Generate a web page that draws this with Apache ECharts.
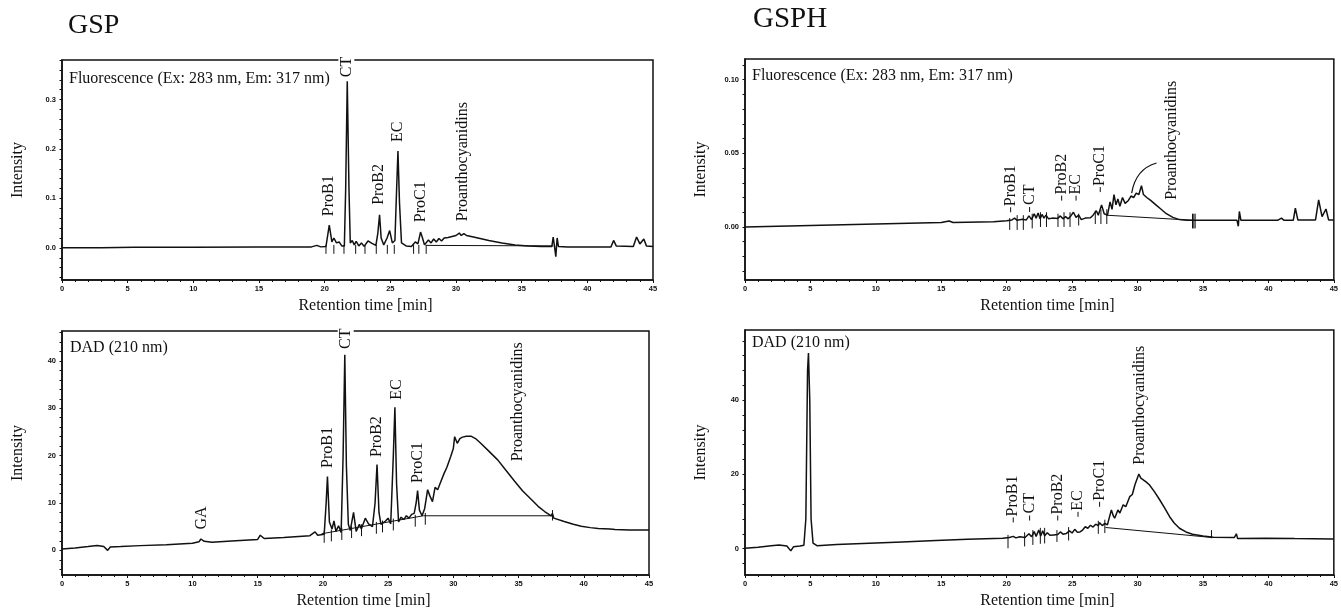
<!DOCTYPE html>
<html>
<head>
<meta charset="utf-8">
<title>GSP / GSPH chromatograms</title>
<script src="https://cdn.jsdelivr.net/npm/echarts@6/dist/echarts.min.js"></script>
<style>
  html, body { margin: 0; padding: 0; background: #fff; }
  #chart { width: 1341px; height: 610px; }
</style>
</head>
<body>
<div id="chart"></div>
<script>
// ---------- data: retention time [min], intensity ----------
const timeTicks = [0, 5, 10, 15, 20, 25, 30, 35, 40, 45];

// GSP, fluorescence detector
const fluoGspTicks = [0, 0.1, 0.2, 0.3];
const fluoGspTrace = [
  [0,0],[3,0],[5.5,0.001],[10,0.001],[15,0.002],[19,0.002],[19.4,0.005],[19.7,0.002],[20.1,0.003],
  [20.35,0.046],[20.55,0.012],[20.7,0.02],[20.9,0.01],[21.1,0.012],[21.3,0.004],[21.5,0.004],
  [21.6,0.12],[21.72,0.337],[21.85,0.12],[21.95,0.01],[22.1,0.015],[22.25,0.006],[22.4,0.013],
  [22.6,0.004],[22.8,0.01],[23.0,0.003],[23.3,0.014],[23.6,0.009],[23.9,0.005],[24.05,0.03],
  [24.18,0.067],[24.3,0.02],[24.5,0.006],[24.75,0.02],[24.95,0.035],[25.15,0.01],[25.35,0.015],
  [25.48,0.12],[25.58,0.196],[25.7,0.09],[25.85,0.01],[26.0,0.012],[26.2,0.004],[26.6,0.003],
  [26.9,0.012],[27.1,0.008],[27.3,0.032],[27.45,0.02],[27.6,0.006],[27.9,0.016],[28.1,0.01],
  [28.3,0.018],[28.5,0.012],[28.7,0.019],[28.9,0.014],[29.1,0.02],[29.4,0.021],[29.7,0.023],
  [30.0,0.025],[30.25,0.03],[30.4,0.025],[30.6,0.029],[30.8,0.025],[31.5,0.021],[32.5,0.015],
  [33.5,0.01],[34.5,0.006],[35.5,0.004],[36.5,0.003],[37.3,0.003],[37.4,0.022],[37.5,0.003],
  [37.6,-0.018],[37.7,0.02],[37.8,0.003],[38.5,0.002],[41.8,0.002],[42.0,0.015],[42.2,0.004],
  [43.5,0.003],[43.75,0.022],[44.0,0.008],[44.3,0.018],[44.5,0.004],[45,0.003]
];
const fluoGspBaseline = [[27.7,0.005],[37.4,0.004]];
const fluoGspDrops = [
  [20.1,0.006,-0.012],[20.7,0.006,-0.012],[21.47,0.006,-0.012],[22.36,0.006,-0.012],
  [23.07,0.006,-0.012],[23.93,0.006,-0.012],[24.77,0.006,-0.012],[25.3,0.006,-0.012],
  [26.77,0.006,-0.012],[27.17,0.006,-0.012],[27.73,0.006,-0.012]
];
const fluoGspPeaks = [
  ['ProB1',20.33,0.064],['CT',21.65,0.343],['ProB2',24.1,0.087],['EC',25.6,0.214],
  ['ProC1',27.35,0.052],['Proanthocyanidins',30.5,0.054]
];

// GSPH, fluorescence detector
const fluoGsphTicks = [0, 0.05, 0.10];
const fluoGsphTrace = [
  [0,0],[5,0.001],[10,0.002],[15,0.003],[15.6,0.004],[15.9,0.003],[19,0.0035],[20,0.0042],
  [20.4,0.0048],[20.6,0.006],[20.8,0.0045],[21.2,0.0052],[21.5,0.0048],[21.7,0.0075],[21.9,0.005],
  [22.1,0.009],[22.25,0.006],[22.4,0.0095],[22.55,0.0055],[22.7,0.0085],[22.85,0.006],[23.0,0.008],
  [23.2,0.0055],[23.5,0.006],[23.9,0.0058],[24.1,0.0075],[24.3,0.0055],[24.5,0.007],[24.7,0.0055],
  [24.9,0.0075],[25.1,0.01],[25.3,0.0065],[25.5,0.008],[25.7,0.005],[26.0,0.006],[26.4,0.0062],
  [26.6,0.008],[26.85,0.011],[27.0,0.008],[27.25,0.015],[27.45,0.009],[27.7,0.008],[27.9,0.017],
  [28.05,0.012],[28.2,0.022],[28.35,0.015],[28.5,0.019],[28.65,0.014],[28.85,0.02],[29.05,0.016],
  [29.3,0.018],[29.5,0.021],[29.7,0.02],[29.9,0.023],[30.1,0.022],[30.3,0.028],[30.45,0.022],
  [30.7,0.02],[31.0,0.018],[31.4,0.015],[31.8,0.012],[32.2,0.009],[32.7,0.0065],[33.2,0.005],
  [33.8,0.0045],[34.3,0.0045],[35,0.0045],[37.6,0.0045],[37.7,0.0005],[37.78,0.0105],[37.9,0.0045],
  [40.7,0.0045],[41,0.006],[41.2,0.0045],[41.9,0.0045],[42.06,0.0127],[42.25,0.0048],[43.6,0.0048],
  [43.84,0.0184],[44.1,0.007],[44.4,0.0122],[44.6,0.0048],[45,0.0048]
];
const fluoGsphBaseline = [[27.6,0.008],[34.3,0.0045]];
const fluoGsphDrops = [
  [20.23,0.006,-0.002],[20.8,0.008,-0.002],[21.27,0.008,-0.002],[21.95,0.009,-0.001],
  [22.58,0.01,0.0],[23.04,0.01,0.0],[23.92,0.009,0.0],[24.38,0.01,0.0],[24.84,0.01,0.0],
  [25.5,0.009,0.001],[26.77,0.011,0.002],[27.2,0.012,0.002],[27.65,0.012,0.002],
  [34.2,0.009,-0.001],[34.3,0.009,-0.001],[34.4,0.009,-0.001]
];
const fluoGsphPeaks = [
  ['ProB1',20.3,0.0093],['CT',21.75,0.0095],['ProB2',24.2,0.0172],['EC',25.3,0.0172],
  ['ProC1',27.15,0.023],['Proanthocyanidins',32.6,0.0184]
];
const fluoGsphCallout = [[29.55,0.023],[31.45,0.0434]];

// GSP, DAD 210 nm
const dadGspTicks = [0, 10, 20, 30, 40];
const dadGspTrace = [
  [0,0.3],[1,0.5],[2,0.8],[2.7,1.05],[3.2,0.8],[3.5,0.0],[3.7,0.7],[4.5,0.8],[6,1.0],[8,1.2],
  [10,1.5],[10.5,1.8],[10.65,2.4],[10.9,1.9],[11.5,1.7],[13,2.0],[15,2.3],[15.2,3.2],[15.5,2.5],
  [17,2.7],[19,3.1],[19.4,3.9],[19.6,3.2],[20.1,3.4],[20.25,10],[20.35,15.6],[20.5,6],[20.7,4.5],
  [20.85,6.2],[21.0,4.0],[21.2,5.2],[21.4,3.8],[21.55,20],[21.68,41.3],[21.8,18],[21.95,5.5],
  [22.1,4.2],[22.35,8.0],[22.55,4.0],[22.8,5.5],[22.95,4.5],[23.25,6.8],[23.5,5.6],[23.8,5.0],
  [24.0,10],[24.15,18.1],[24.3,8],[24.45,5.5],[24.8,6.2],[25.0,6.8],[25.2,5.6],[25.4,20],
  [25.52,30.2],[25.65,14],[25.8,6.0],[26.0,7.0],[26.2,6.5],[26.4,7.3],[26.6,6.8],[26.8,7.6],
  [27.0,7.8],[27.15,10],[27.26,12.6],[27.4,8.5],[27.6,7.3],[27.8,8.8],[28.03,12.8],[28.2,11.5],
  [28.4,10.3],[28.6,13.3],[28.8,12.8],[29.0,14.2],[29.3,16.3],[29.5,17.5],[29.8,19.8],[30.0,21.5],
  [30.1,24.0],[30.3,22.6],[30.5,23.6],[30.7,23.9],[31.0,24.1],[31.35,24.1],[31.7,23.6],[32.1,22.6],
  [32.7,21.0],[33.4,19.1],[34.0,17.0],[34.7,14.6],[35.3,12.6],[36.0,10.7],[36.5,9.3],[37.0,8.2],
  [37.5,7.3],[37.6,7.8],[37.7,6.8],[38.5,6.1],[39.2,5.5],[39.8,5.1],[40.5,4.8],[41.1,4.6],[42,4.5],
  [42.4,4.4],[43.5,4.3],[45,4.3]
];
const dadGspBaseline = [[19.9,3.5],[27.7,7.3],[37.6,7.3]];
const dadGspDrops = [
  [20.1,4.1,1.6],[20.65,4.4,1.9],[21.45,4.8,2.2],[22.2,5.1,2.6],[22.96,5.5,3.0],[24.1,6.0,3.5],
  [24.57,6.3,3.8],[25.4,6.7,4.2],[27.08,7.5,5.0],[27.85,7.9,5.4],[37.6,8.5,6.3]
];
const dadGspPeaks = [
  ['GA',10.7,4.4],['ProB1',20.35,17.4],['CT',21.75,42.3],['ProB2',24.15,19.7],['EC',25.7,31.8],
  ['ProC1',27.26,14.2],['Proanthocyanidins',34.95,18.8]
];

// GSPH, DAD 210 nm
const dadGsphTicks = [0, 20, 40];
const dadGsphTrace = [
  [0,0.1],[1,0.4],[2,0.8],[2.6,1.0],[3.2,0.7],[3.5,-0.6],[3.7,0.5],[4.2,0.7],[4.5,0.9],[4.65,8],
  [4.78,48],[4.85,52.7],[4.95,40],[5.05,8],[5.2,1.5],[5.5,0.8],[7,1.1],[9.5,1.45],[12,1.8],
  [14.6,2.2],[17,2.5],[19.7,2.8],[20.2,3.0],[20.5,3.3],[20.7,2.9],[21.0,3.2],[21.4,3.0],[21.7,4.0],
  [21.9,3.2],[22.1,4.6],[22.25,3.3],[22.45,5.0],[22.6,3.4],[22.75,4.8],[22.9,3.5],[23.1,4.3],
  [23.3,3.6],[23.6,3.7],[23.9,3.8],[24.1,4.5],[24.3,3.9],[24.56,4.1],[24.8,4.8],[25.0,4.2],
  [25.2,5.2],[25.4,4.4],[25.6,4.5],[25.8,5.0],[26.0,5.9],[26.2,5.5],[26.4,6.3],[26.6,5.8],
  [26.8,6.6],[27.0,6.2],[27.1,7.0],[27.3,6.2],[27.5,6.8],[27.7,6.4],[27.85,8.5],[28.0,10.4],
  [28.15,8.8],[28.25,8.2],[28.5,10.4],[28.65,9.6],[28.9,11.8],[29.1,11.3],[29.4,14.0],[29.6,14.6],
  [29.8,17.2],[29.95,17.5],[30.1,20.1],[30.25,19.0],[30.4,18.5],[30.65,18.0],[30.9,17.2],
  [31.3,15.3],[31.7,13.1],[32.1,10.8],[32.45,8.6],[32.8,6.9],[33.2,5.5],[33.7,4.5],[34.2,3.9],
  [35,3.4],[35.8,3.1],[37.4,3.0],[37.55,4.0],[37.65,2.7],[37.8,3.0],[39.8,2.8],[42,2.7],
  [44.9,2.6],[45,2.6]
];
const dadGsphBaseline = [[27.55,5.7],[35.7,3.0]];
const dadGsphDrops = [
  [20.1,3.7,0.1],[21.37,4.4,0.6],[22.0,5.0,1.0],[22.57,5.6,1.3],[22.9,5.6,1.4],[23.84,5.0,1.8],
  [24.73,5.8,2.2],[27.0,7.5,4.0],[27.5,7.8,4.2],[35.65,5.0,2.8]
];
const dadGsphPeaks = [
  ['ProB1',20.5,6.8],['CT',21.75,7.3],['ProB2',23.9,7.3],['EC',25.45,8.3],
  ['ProC1',27.1,11.0],['Proanthocyanidins',30.15,22.6]
];

// ---------- layout ----------
const SERIF = '"Liberation Serif", "Times New Roman", serif';
const INK = '#111';

const panels = [
  { grid: { left: 62, top: 60, width: 591, height: 220 }, yMin: -0.065, yMax: 0.38,
    ticks: fluoGspTicks, minorStep: 0.02, digits: 1,
    trace: fluoGspTrace, baseline: fluoGspBaseline, drops: fluoGspDrops, peaks: fluoGspPeaks, leaders: false },
  { grid: { left: 745, top: 59, width: 592, height: 221 }, yMin: -0.036, yMax: 0.114,
    ticks: fluoGsphTicks, minorStep: 0.01, digits: 2,
    trace: fluoGsphTrace, baseline: fluoGsphBaseline, drops: fluoGsphDrops, peaks: fluoGsphPeaks, leaders: true },
  { grid: { left: 62, top: 331, width: 587, height: 244 }, yMin: -5.2, yMax: 46.3,
    ticks: dadGspTicks, minorStep: 2, digits: 0,
    trace: dadGspTrace, baseline: dadGspBaseline, drops: dadGspDrops, peaks: dadGspPeaks, leaders: false },
  { grid: { left: 745, top: 330, width: 589, height: 245 }, yMin: -7.1, yMax: 58.9,
    ticks: dadGsphTicks, minorStep: 4, digits: 0,
    trace: dadGsphTrace, baseline: dadGsphBaseline, drops: dadGsphDrops, peaks: dadGsphPeaks, leaders: true }
];

function minorTicks(p) {
  const out = [];
  const start = Math.ceil(p.yMin / p.minorStep);
  const end = Math.floor(p.yMax / p.minorStep);
  for (let k = start; k <= end; k++) out.push(+(k * p.minorStep).toFixed(4));
  return out;
}

const tickFont = { fontFamily: '"Liberation Sans", Arial, sans-serif', fontWeight: 'bold', fontSize: 7.5, color: INK };
const nameFont = { fontFamily: SERIF, fontSize: 16, color: INK };

const grids = panels.map(p => Object.assign({ show: true, borderColor: INK, borderWidth: 1.5, backgroundColor: 'transparent' }, p.grid));

const xAxes = panels.map((p, i) => ({
  type: 'value', gridIndex: i, min: timeTicks[0], max: timeTicks[timeTicks.length - 1], interval: 5,
  name: 'Retention time [min]', nameLocation: 'middle', nameGap: 18,
  nameTextStyle: Object.assign({ padding: [0, 0, 0, 16] }, nameFont),
  axisLine: { show: true, onZero: false, lineStyle: { color: INK, width: 1.5 } },
  axisTick: { show: true, length: 3, lineStyle: { color: INK, width: 1 } },
  minorTick: { show: true, splitNumber: 5, length: 2, lineStyle: { color: INK, width: 1 } },
  axisLabel: Object.assign({ margin: 5 }, tickFont),
  splitLine: { show: false }
}));

const yAxes = panels.map((p, i) => ({
  type: 'value', gridIndex: i, min: p.yMin, max: p.yMax,
  name: 'Intensity', nameLocation: 'middle', nameGap: 36, nameTextStyle: nameFont,
  axisLine: { show: true, onZero: false, lineStyle: { color: INK, width: 1.5 } },
  axisTick: { show: true, length: 2.5, customValues: minorTicks(p), lineStyle: { color: INK, width: 1 } },
  axisLabel: Object.assign({ margin: 6, customValues: p.ticks,
    formatter: v => v.toFixed(p.digits) }, tickFont),
  splitLine: { show: false }
}));

const series = [];
panels.forEach((p, i) => {
  series.push({
    type: 'line', xAxisIndex: i, yAxisIndex: i, data: p.trace, showSymbol: false, symbol: 'none',
    lineStyle: { color: INK, width: 1.5 }, silent: true, z: 3, animation: false
  });
  series.push({
    type: 'line', xAxisIndex: i, yAxisIndex: i, data: p.baseline, showSymbol: false, symbol: 'none',
    lineStyle: { color: INK, width: 1 }, silent: true, z: 2, animation: false
  });
  // integration drop lines
  series.push({
    type: 'custom', xAxisIndex: i, yAxisIndex: i, data: p.drops, encode: { x: 0, y: [1, 2] },
    silent: true, z: 2, animation: false,
    renderItem(params, api) {
      const a = api.coord([api.value(0), api.value(1)]);
      const b = api.coord([api.value(0), api.value(2)]);
      return { type: 'line', shape: { x1: a[0], y1: a[1], x2: b[0], y2: b[1] },
        style: { stroke: INK, lineWidth: 1 } };
    }
  });
  // rotated peak names
  series.push({
    type: 'custom', xAxisIndex: i, yAxisIndex: i, clip: false,
    data: p.peaks.map(k => [k[1], k[2]]), encode: { x: 0, y: 1 },
    silent: true, z: 6, animation: false,
    renderItem(params, api) {
      const name = p.peaks[params.dataIndex][0];
      const pt = api.coord([api.value(0), api.value(1)]);
      const children = [];
      let gap = 0;
      if (p.leaders && name !== 'Proanthocyanidins') {
        children.push({ type: 'line', shape: { x1: pt[0], y1: pt[1] - 1, x2: pt[0], y2: pt[1] - 6 },
          style: { stroke: INK, lineWidth: 1 } });
        gap = 7;
      }
      const textStyleObj = { text: name, font: '16px ' + SERIF, fill: INK, align: 'left', verticalAlign: 'middle' };
      if (name === 'CT') { textStyleObj.backgroundColor = '#fff'; textStyleObj.padding = [0, 1]; }
      children.push({ type: 'text', x: pt[0], y: pt[1] - gap, rotation: Math.PI / 2, style: textStyleObj });
      return { type: 'group', children };
    }
  });
});

// curved pointer to the proanthocyanidin hump (GSPH fluorescence)
series.push({
  type: 'custom', xAxisIndex: 1, yAxisIndex: 1, data: [fluoGsphCallout[0].concat(fluoGsphCallout[1])],
  encode: { x: [0, 2], y: [1, 3] }, silent: true, z: 6, animation: false,
  renderItem(params, api) {
    const a = api.coord([api.value(0), api.value(1)]);
    const b = api.coord([api.value(2), api.value(3)]);
    return { type: 'bezierCurve',
      shape: { x1: a[0], y1: a[1], x2: b[0], y2: b[1], cpx1: a[0] + 4, cpy1: b[1] + 6 },
      style: { stroke: INK, lineWidth: 1.2, fill: null } };
  }
});

const textStyle = (size) => ({ font: size + 'px ' + SERIF, fill: INK });
const graphic = [
  { type: 'text', left: 68, top: 12, style: Object.assign({ text: 'GSP' }, textStyle(28)) },
  { type: 'text', left: 753, top: 5, style: Object.assign({ text: 'GSPH' }, textStyle(29)) },
  { type: 'text', left: 69, top: 71, style: Object.assign({ text: 'Fluorescence (Ex: 283 nm, Em: 317 nm)' }, textStyle(16)) },
  { type: 'text', left: 752, top: 68, style: Object.assign({ text: 'Fluorescence (Ex: 283 nm, Em: 317 nm)' }, textStyle(16)) },
  { type: 'text', left: 70, top: 340, style: Object.assign({ text: 'DAD (210 nm)' }, textStyle(16)) },
  { type: 'text', left: 752, top: 335, style: Object.assign({ text: 'DAD (210 nm)' }, textStyle(16)) }
];

const chart = echarts.init(document.getElementById('chart'), null, { renderer: 'canvas' });
chart.setOption({
  backgroundColor: '#fff',
  animation: false,
  grid: grids,
  xAxis: xAxes,
  yAxis: yAxes,
  series: series,
  graphic: graphic
});
</script>
</body>
</html>
